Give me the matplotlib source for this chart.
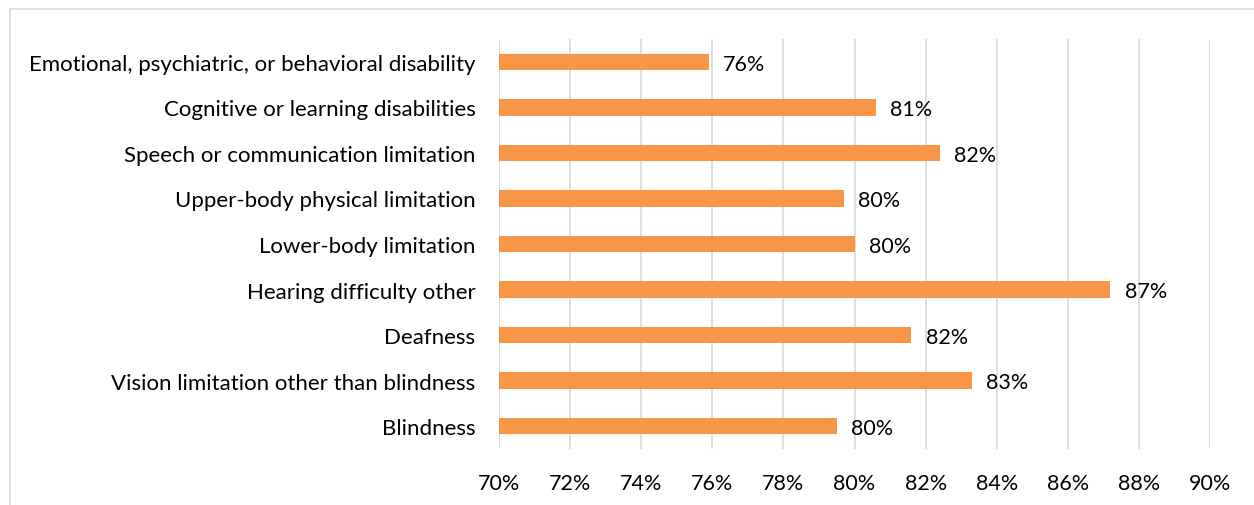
import matplotlib
matplotlib.use("Agg")
import matplotlib.pyplot as plt
from matplotlib.patches import Rectangle
from matplotlib.ticker import FuncFormatter

categories = [
    "Blindness",
    "Vision limitation other than blindness",
    "Deafness",
    "Hearing difficulty other",
    "Lower-body limitation",
    "Upper-body physical limitation",
    "Speech or communication limitation",
    "Cognitive or learning disabilities",
    "Emotional, psychiatric, or behavioral disability",
]
values = [79.5, 83.3, 81.6, 87.2, 80.0, 79.7, 82.4, 80.6, 75.9]

plt.rcParams["font.family"] = ["Lato", "DejaVu Sans"]

fig = plt.figure(figsize=(12.54, 5.06), dpi=100)
ax = fig.add_axes([499 / 1254, 1 - 450 / 506, 711 / 1254, 410 / 506])

# chart frame
fig.patches.append(Rectangle((10 / 1254, -0.1), 1.2, 1 - 10 / 506 + 0.1,
                             transform=fig.transFigure, fill=False,
                             edgecolor="#d9d9d9", linewidth=1.2))

y = range(len(categories))
ax.barh(y, [v - 70 for v in values], left=70, height=0.36, color="#F79646")
for i, v in zip(y, values):
    ax.text(v + 0.4, i - 0.04, f"{round(v):.0f}%", va="center", ha="left",
            fontsize=15.5, color="#000000")

ax.set_xlim(70, 90)
ax.set_ylim(-0.5, len(categories) - 0.5)
ax.set_xticks(range(70, 91, 2))
ax.xaxis.set_major_formatter(FuncFormatter(lambda x, _: f"{x:.0f}%"))
ax.set_yticks(list(y))
ax.set_yticklabels(categories)
ax.tick_params(axis="both", length=0, labelsize=15.5, colors="#000000")
ax.tick_params(axis="y", labelsize=16, pad=17)
ax.tick_params(axis="x", pad=17)
ax.grid(axis="x", color="#d9d9d9", linewidth=1.2)
ax.set_axisbelow(True)
for s in ax.spines.values():
    s.set_visible(False)

fig.savefig("out.png", dpi=100)
